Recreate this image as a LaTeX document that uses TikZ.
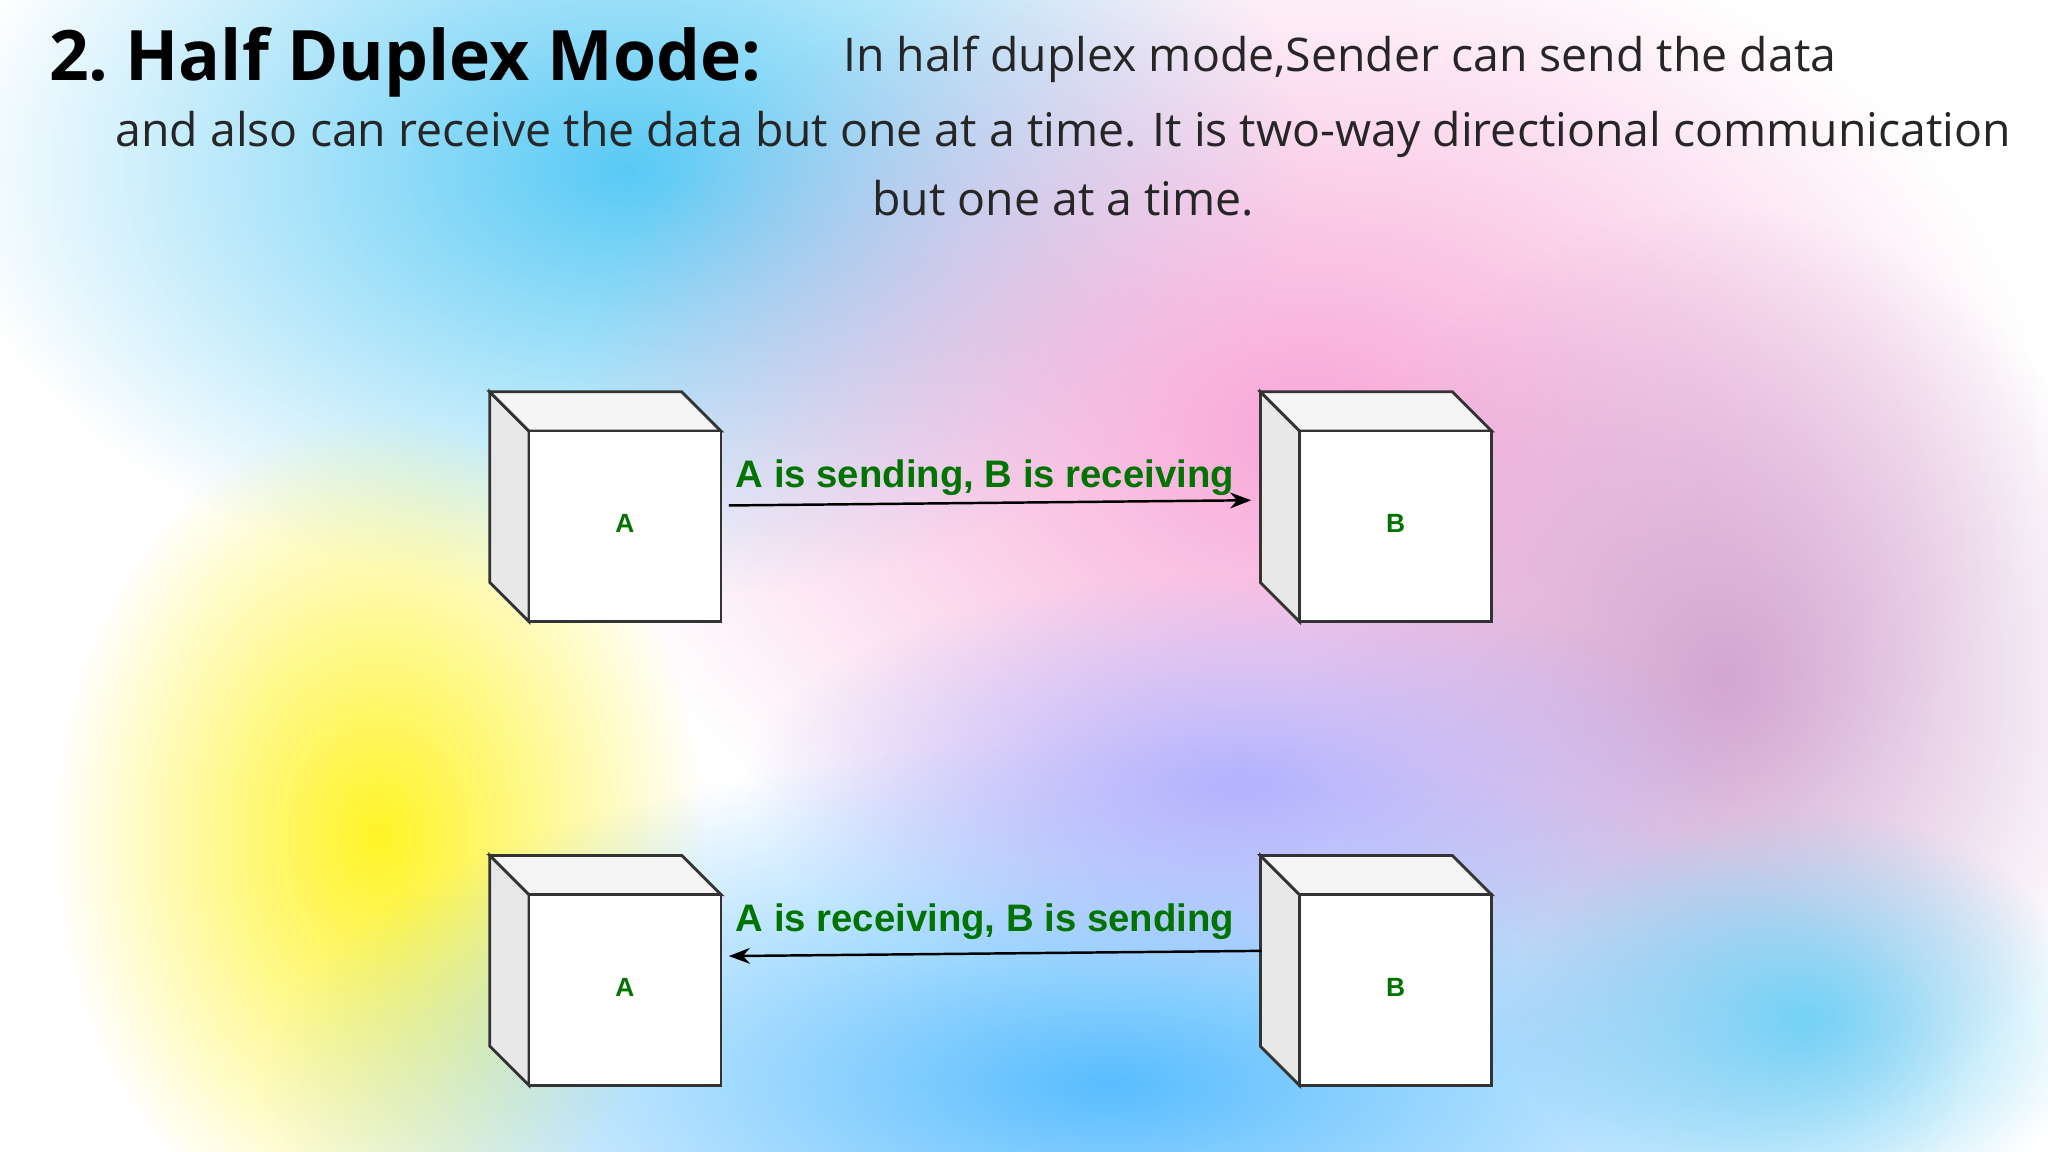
\documentclass[tikz,border=0pt]{standalone}
\usepackage{fontspec}
\setmainfont{Open Sans}
\newfontfamily\arialf{Liberation Sans}
\usetikzlibrary{fadings,arrows.meta}
\tikzfading[name=soft, inner color=transparent!0, outer color=transparent!100]
\begin{document}
\begin{tikzpicture}[x=0.01306cm,y=-0.01306cm,
  blob/.style={path fading=soft},
  face/.style={draw=black!80,line width=0.8pt},
  lbl/.style={font=\arialf\bfseries\fontsize{10.9}{12}\selectfont,text=green!45!black},
  letter/.style={font=\arialf\bfseries\fontsize{7.5}{9}\selectfont,text=green!45!black},
  conn/.style={draw=black,line width=0.7pt,-{Stealth[length=6pt]}}]
\useasboundingbox (0,0) rectangle (1568,882);
\fill[white] (0,0) rectangle (1568,882);
% background blobs
\fill[cyan!65,blob] (480,130) ellipse (520 and 330);
\fill[magenta!35,blob] (1000,330) ellipse (560 and 400);
\fill[violet!35,blob] (1320,520) ellipse (320 and 360);
\fill[yellow!85,blob] (290,640) ellipse (250 and 320);
\fill[blue!40!cyan!65,blob] (850,830) ellipse (650 and 260);
\fill[cyan!55,blob] (1380,780) ellipse (220 and 160);
\fill[blue!30,blob] (950,600) ellipse (380 and 160);
% text
\node[inner sep=0pt,anchor=base west,font=\bfseries\fontsize{19.8}{22}\selectfont] (title) at (37,62) {2.\kern-0.1em{} Half Duplex Mode:};
\node[inner sep=0pt,anchor=base west,font=\fontsize{13.2}{15}\selectfont,text=black!85] (t1) at (645,55) {In half duplex mode,Sender can send the data};
\node[anchor=base,font=\fontsize{13.2}{15}\selectfont,text=black!85] (t2) at (814,112) {and also can receive the data but one at a time. It is two-way directional communication};
\node[anchor=base,font=\fontsize{13.2}{15}\selectfont,text=black!85] (t3) at (814,165) {but one at a time.};
% boxes
\foreach \n/\dx/\dy/\t in {a1/0/0/A,b1/590/0/B,a2/0/355/A,b2/590/355/B}{
  \begin{scope}[shift={(\dx,\dy)}]
  \filldraw[face,fill=gray!18] (375,300)--(405,330)--(405,476)--(375,446)--cycle;
  \filldraw[face,fill=gray!8] (375,300)--(522,300)--(552,330)--(405,330)--cycle;
  \filldraw[face,fill=white] (405,330) rectangle (552,476);
  \node[letter] (\n) at (478.5,401) {\t};
  \end{scope}}
\coordinate (s1) at (558,387);
\coordinate (e1) at (958,383);
\draw[conn] (s1) -- (e1);
\node[lbl,anchor=base] (l1) at (754,373) {A is sending, B is receiving};
\coordinate (s2) at (966,728);
\coordinate (e2) at (558,732);
\draw[conn] (s2) -- (e2);
\node[lbl,anchor=base] (l2) at (754,713) {A is receiving, B is sending};
\end{tikzpicture}
\end{document}
